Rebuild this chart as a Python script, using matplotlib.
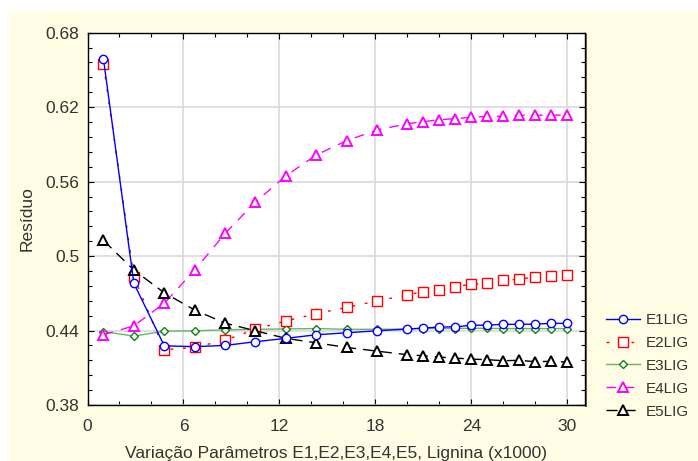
import matplotlib.pyplot as plt
import matplotlib.patches as mpatches
import numpy as np

# Residuo em funcao da variacao dos parametros (x1000)
x = [1, 2.9, 4.8, 6.7, 8.6, 10.5, 12.4, 14.3, 16.2, 18.1, 20,
     21, 22, 23, 24, 25, 26, 27, 28, 29, 30]

e1lig = [0.6586, 0.478, 0.4277, 0.427, 0.428, 0.431, 0.4337, 0.4366, 0.4382, 0.4398, 0.4412,
         0.442, 0.4428, 0.443, 0.4442, 0.4444, 0.445, 0.445, 0.4452, 0.4458, 0.4458]
e2lig = [0.6545, 0.483, 0.4245, 0.4264, 0.4323, 0.441, 0.4477, 0.4536, 0.4587, 0.4638, 0.4687,
         0.4713, 0.473, 0.4754, 0.4772, 0.4786, 0.4805, 0.4813, 0.4832, 0.4837, 0.4848]
e3lig = [0.4392, 0.4355, 0.4395, 0.4398, 0.4406, 0.441, 0.4413, 0.4416, 0.441, 0.441, 0.4412,
         0.4416, 0.4416, 0.4416, 0.4418, 0.4418, 0.4416, 0.4416, 0.4416, 0.4416, 0.4416]
e4lig = [0.4366, 0.4438, 0.462, 0.4887, 0.5182, 0.5436, 0.5646, 0.5815, 0.593, 0.6016, 0.6067,
         0.6083, 0.6099, 0.6107, 0.6118, 0.6126, 0.6126, 0.6134, 0.6134, 0.6137, 0.6134]
e5lig = [0.5126, 0.4887, 0.4704, 0.4565, 0.446, 0.4398, 0.4337, 0.4301, 0.4264, 0.4234, 0.4205,
         0.4197, 0.4186, 0.4178, 0.417, 0.4165, 0.4157, 0.416, 0.4149, 0.4152, 0.4146]

xticks = [0, 6, 12, 18, 24, 30]
yticks = [0.38, 0.44, 0.5, 0.56, 0.62, 0.68]
yticklabels = ['0.38', '0.44', '0.5', '0.56', '0.62', '0.68']

plt.rcParams['font.family'] = ['Liberation Sans', 'DejaVu Sans']

fig = plt.figure(figsize=(6.98, 4.61), dpi=100)
fig.patch.set_facecolor('white')

# painel amarelo de fundo
W, H = 698, 461
fig.patches.append(mpatches.Rectangle((9 / W, 0), 1, 1 - 11 / H, transform=fig.transFigure,
                                      facecolor='#fffde3', edgecolor='none', zorder=-2))

# sombra do quadro
fig.patches.append(mpatches.Rectangle((585 / W, 1 - 407 / H), 2 / W, (407 - 34) / H,
                                      transform=fig.transFigure, facecolor='#6f6f5a',
                                      edgecolor='none', zorder=-1))

ax = fig.add_axes([87.5 / W, 1 - 405 / H, (585 - 87.5) / W, (405 - 32.7) / H])
ax.set_zorder(2)
ax.set_facecolor('white')

kw = dict(markerfacecolor='white', markeredgewidth=1.0)
ax.plot(x, e1lig, color='#0000ff', lw=1, marker='o', ms=6, markeredgecolor='#0000ff',
        label='E1LIG', zorder=5, **kw)
ax.plot(x, e2lig, color='#ff0000', lw=1, dashes=[2, 7], marker='s', ms=6.5,
        markeredgecolor='#ff0000', label='E2LIG', zorder=4, **kw)
ax.plot(x, e3lig, color='#6ab46a', lw=1, marker='D', ms=4.5, markeredgecolor='#108010',
        label='E3LIG', zorder=3, **kw)
ax.plot(x, e4lig, color='#ff00ff', lw=1, dashes=[7, 6], marker='^', ms=6.5,
        markeredgecolor='#ff00ff', markeredgewidth=1.4, markerfacecolor='white',
        label='E4LIG', zorder=4)
ax.plot(x, e5lig, color='black', lw=1, dashes=[8, 5], marker='^', ms=6.5,
        markeredgecolor='black', markeredgewidth=1.4, markerfacecolor='white',
        label='E5LIG', zorder=4)

ax.set_xlim(0, 31.1)
ax.set_ylim(0.38, 0.68)
ax.set_xticks(xticks)
ax.set_yticks(yticks)
ax.set_yticklabels(yticklabels)
ax.set_xticks(np.arange(0, 31, 2), minor=True)
ax.set_yticks(np.arange(0.38, 0.6801, 0.012), minor=True)
ax.tick_params(which='both', direction='in', top=True, right=True, colors='black',
               labelcolor='#333333', labelsize=12.5)
ax.tick_params(which='major', length=4, width=0.8)
ax.tick_params(which='minor', length=3, width=0.8)
ax.tick_params(axis='x', pad=10)
ax.tick_params(axis='y', pad=6)
ax.grid(True, which='major', color='#d9d9d9', lw=1.2)
ax.set_axisbelow(True)
for s in ax.spines.values():
    s.set_color('black')
    s.set_linewidth(1)

ax.set_xlabel('Variação Parâmetros E1,E2,E3,E4,E5, Lignina (x1000)', fontsize=12.5,
              color='#333333', labelpad=9)
ax.set_ylabel('Resíduo', fontsize=12.5, color='#333333', labelpad=8)

leg = fig.legend(loc='upper left', bbox_to_anchor=(600 / W, 1 - 307 / H), frameon=False,
                 fontsize=11, numpoints=1, handlelength=2.2, labelspacing=0.58,
                 handletextpad=0.4, borderaxespad=0)
for t in leg.get_texts():
    t.set_color('#333333')

fig.savefig('out.png', dpi=100, facecolor=fig.get_facecolor())
